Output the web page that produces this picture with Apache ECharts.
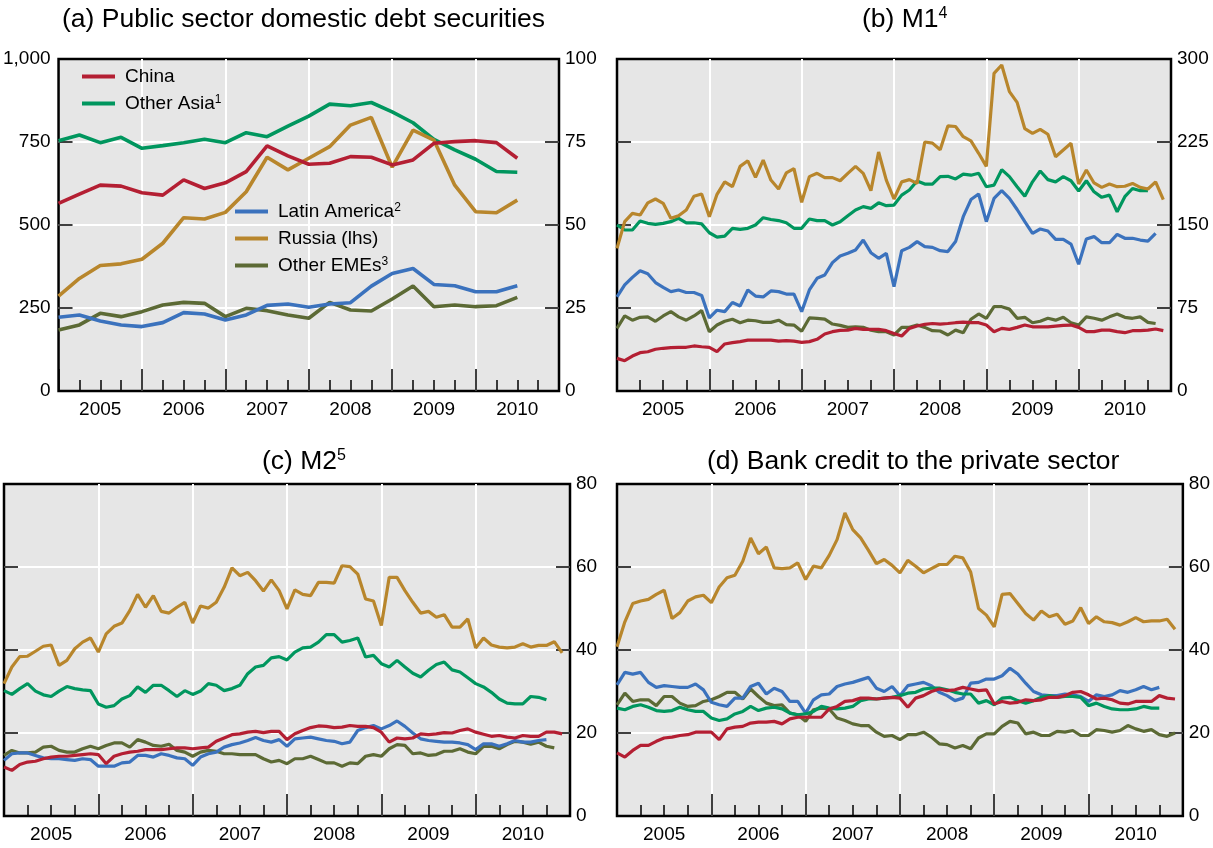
<!DOCTYPE html>
<html><head><meta charset="utf-8">
<script src="https://cdn.jsdelivr.net/npm/echarts@6/dist/echarts.min.js"></script>
<style>html,body{margin:0;padding:0;background:#fff}#c{width:1213px;height:848px}</style>
</head><body><div id="c"></div><script>
// ---------- data ----------
const YEARS = ['2005', '2006', '2007', '2008', '2009', '2010'];
const SERIES_NAMES = ['China', 'Other Asia', 'Latin America', 'Russia (lhs)', 'Other EMEs'];

// (a) quarterly, starting 2005 Q1; Russia on lhs (0-1000), others on rhs (0-100)
const A_CHINA = [56.5, 59.3, 62.0, 61.7, 59.7, 59.0, 63.6, 61.0, 62.7, 66.1, 73.8, 70.8, 68.3, 68.6, 70.6, 70.4, 68.1, 69.6, 74.6, 75.1, 75.4, 74.8, 70.1];
const A_OTHER_ASIA = [75.4, 77.1, 74.8, 76.4, 73.1, 73.9, 74.8, 75.8, 74.8, 77.8, 76.6, 79.8, 82.8, 86.4, 85.9, 86.9, 84.1, 80.8, 75.8, 72.6, 69.8, 66.1, 65.9];
const A_LATAM = [22.2, 22.9, 21.1, 19.9, 19.4, 20.6, 23.6, 23.2, 21.4, 22.9, 25.8, 26.2, 25.2, 26.2, 26.6, 31.6, 35.4, 36.9, 32.1, 31.7, 29.9, 29.9, 31.7];
const A_RUSSIA = [286, 339, 378, 383, 397, 445, 522, 518, 538, 600, 704, 666, 701, 736, 801, 824, 674, 786, 756, 620, 540, 537, 575];
const A_OTHER_EMES = [18.4, 19.9, 23.4, 22.4, 23.9, 25.9, 26.7, 26.4, 22.4, 24.9, 24.2, 22.9, 21.9, 26.7, 24.4, 24.1, 27.7, 31.6, 25.4, 25.9, 25.4, 25.7, 28.2];

// (b) M1, monthly from Jan 2005
const B_RUSSIA = [128.9, 153, 160.5, 159, 170, 173.5, 169.6, 156, 158.4, 163.5, 176, 178, 157.5, 177.7, 189, 184.6, 203, 208, 193, 208.7, 190.6, 182.5, 197, 201, 170.5, 193.7, 196.7, 192.8, 192.8, 190, 196.7, 203, 196.7, 181, 216, 190.6, 173.5, 189, 191, 187.6, 225, 224, 218, 239.5, 239, 229.8, 226, 214.8, 203, 287, 294.6, 270.5, 260.8, 237, 232.8, 236.4, 232, 211.7, 217.8, 223.8, 187, 199.7, 188, 184, 187, 184.6, 185, 187.6, 184, 182.5, 189, 173];
const B_OTHER_ASIA = [150, 145.5, 145.5, 153.6, 151.5, 150.6, 151.5, 153, 156, 152, 152, 151, 143, 139, 140, 147, 146, 147, 150, 156.6, 155, 154, 152, 147, 147, 155.4, 154, 154, 150, 153, 158.4, 163.5, 166.6, 165, 170, 167.5, 168, 177, 181.6, 189.8, 187, 187, 193.7, 194, 191.6, 196, 195, 196.7, 184.6, 186, 200, 193.7, 184.6, 176, 189, 198.8, 191, 189, 193.7, 190, 180.7, 190, 180, 175, 177, 162, 175.6, 183, 181, 181];
const B_LATAM = [85, 95.8, 102.7, 108.7, 106, 98, 93.7, 89.8, 91.3, 89, 89, 86.4, 66, 73, 71.7, 80, 76.8, 91.3, 85.8, 85, 90.4, 89.8, 87.6, 87.6, 71.7, 91.3, 101.8, 104.8, 116, 122, 124.4, 127.4, 136.4, 125, 119.9, 124.4, 94.3, 126.8, 129.8, 135, 130.4, 129.8, 126.8, 126, 135, 157.5, 173, 178, 153, 174, 181, 174, 164, 153, 142.5, 146.4, 144.6, 137, 137, 132.8, 114.5, 137.3, 139.5, 134, 134, 141.6, 138, 138, 136.4, 135.5, 142.5];
const B_OTHER_EMES = [56.6, 67.8, 64, 66.6, 67, 63, 67.8, 71.7, 67, 64, 67.8, 72.6, 53.6, 59.6, 63, 64.8, 61.7, 64, 63.5, 62, 62, 64, 60, 59.6, 54, 66, 65.7, 65, 60.5, 59.3, 57.5, 58, 57.5, 55, 53.6, 53.6, 50.6, 57.5, 57.5, 59.6, 57.5, 54.5, 54.2, 50.6, 55, 52.7, 64.8, 69.6, 65.7, 76.2, 76.2, 74, 65.7, 66.6, 61.7, 63, 65.7, 64, 66.6, 61.7, 59.6, 67, 65.7, 64, 67, 69.6, 66.6, 65.7, 67, 62, 61];
const B_CHINA = [29.5, 27.4, 31.6, 34.6, 35.5, 37.7, 38.6, 39.2, 39.5, 39.5, 40.7, 40, 39.5, 35.5, 42.5, 43.7, 44.6, 46, 46, 46, 46, 45, 45.5, 45, 44, 44.6, 46.7, 51.5, 53.6, 54.8, 55, 56.6, 55.7, 55.7, 55.7, 54.5, 52, 49.7, 56.6, 58.7, 60.2, 61, 60.5, 61, 61.7, 62.3, 61.7, 61.7, 59.6, 53.6, 56.6, 55.7, 57.5, 59.6, 58, 58, 58, 58.7, 59.3, 59.6, 57.5, 53.6, 53.6, 55, 55, 53.6, 52.7, 54.5, 54.5, 55, 56, 54.5];

// (c) M2, monthly from Jan 2005
const C_RUSSIA = [31.9, 35.9, 38.4, 38.5, 39.7, 40.9, 41.2, 36.3, 37.5, 40.3, 41.9, 42.9, 39.5, 43.9, 45.7, 46.5, 49.5, 53.4, 50.3, 53.1, 49.3, 48.9, 50.3, 51.5, 46.5, 50.6, 50.1, 51.5, 55.1, 59.8, 57.9, 58.7, 56.7, 54.2, 56.9, 54.3, 49.9, 54.5, 53.4, 53.1, 56.3, 56.3, 56.1, 60.3, 60.1, 58.3, 52.3, 51.8, 45.9, 57.5, 57.5, 54.3, 51.5, 48.9, 49.3, 47.9, 48.5, 45.5, 45.5, 47.5, 40.5, 42.9, 41.2, 40.7, 40.5, 40.7, 41.5, 40.7, 41.1, 41.1, 42, 39.3];
const C_OTHER_ASIA = [30.2, 29.3, 30.7, 31.9, 30.1, 29.2, 28.8, 30.1, 31.2, 30.7, 30.4, 30.2, 27, 26.2, 26.6, 28.2, 29, 31.1, 29.8, 31.5, 31.5, 30.2, 28.8, 30.2, 29.3, 30.1, 31.9, 31.5, 30.2, 30.7, 31.5, 34.3, 35.9, 36.3, 38.1, 38.4, 37.6, 39.5, 40.5, 40.7, 41.9, 43.7, 43.7, 41.9, 42.3, 42.9, 38.3, 38.7, 36.7, 35.9, 37.5, 35.9, 34.4, 33.5, 35.1, 36.5, 37.1, 35.2, 34.7, 33.3, 31.9, 31.1, 29.8, 28.2, 27.2, 27, 27, 28.8, 28.6, 28];
const C_CHINA = [11.8, 11, 12.4, 13, 13.2, 13.8, 14.2, 14.4, 14.4, 14.6, 14.8, 15, 14.8, 12.6, 14.4, 15, 15.4, 15.6, 16, 16, 16, 16.2, 16.4, 16.4, 16.2, 16.4, 16.6, 18, 18.8, 19.6, 19.8, 20.2, 20.4, 20.1, 20.4, 20.4, 18.4, 19.8, 20.6, 21.3, 21.7, 21.6, 21.3, 21.4, 21.8, 21.6, 21.6, 21.3, 20.2, 17.8, 18.8, 18.6, 18.8, 19.8, 19.6, 19.8, 20.1, 20, 20.6, 21, 20.2, 19.7, 19.2, 19.4, 19, 18.8, 19.4, 19.2, 19.2, 20.2, 20.2, 19.8];
const C_LATAM = [13.4, 15, 15.2, 15.2, 14.6, 14, 13.8, 13.8, 13.6, 13.4, 13.8, 13.6, 12, 12, 12, 12.8, 13, 14.6, 14.6, 14.2, 15, 14.6, 14, 13.8, 12.2, 14.2, 15, 15.4, 16.6, 17.2, 17.6, 18.2, 18.9, 18.2, 17.8, 18.4, 16.8, 18.6, 18.8, 19, 18.6, 18.2, 18, 17.4, 17.8, 20.6, 21.3, 21.8, 21, 21.8, 22.9, 21.6, 20, 18.6, 18.2, 18, 17.8, 17.8, 17.6, 17.2, 16, 17.4, 17.4, 16.8, 17.4, 18.2, 17.8, 17.8, 18.2, 18.4];
const C_OTHER_EMES = [14.6, 15.8, 15.2, 15.2, 15.4, 16.6, 16.8, 15.8, 15.4, 15.4, 16.2, 16.8, 16.2, 17, 17.6, 17.6, 16.6, 18.4, 17.8, 17, 16.8, 17.3, 15.8, 15.4, 14.4, 15.4, 15.8, 15.6, 15, 15, 14.8, 14.8, 14.8, 13.8, 13, 13.4, 12.6, 13.8, 13.8, 14.4, 13.6, 12.8, 12.8, 12, 12.8, 12.6, 14.4, 14.8, 14.4, 16.2, 17.2, 17, 15, 15.2, 14.6, 14.8, 15.6, 15.6, 16.2, 15.4, 15, 16.8, 16.8, 16.2, 17.2, 18, 17.8, 17.3, 17.8, 16.8, 16.4];

// (d) bank credit to the private sector, monthly from Jan 2005
const D_RUSSIA = [40.8, 46.8, 51.2, 51.8, 52.2, 53.4, 54.4, 47.6, 49, 51.8, 52.8, 53.2, 51.4, 55.2, 57.4, 58, 61.4, 67, 63.2, 64.8, 59.8, 59.6, 59.8, 61, 57, 60.2, 59.8, 62.8, 66.6, 73, 69, 67, 64, 60.8, 61.8, 60.4, 58.6, 61.6, 60.2, 58.6, 59.6, 60.6, 60.6, 62.6, 62.2, 58.8, 50, 48.4, 45.6, 53.4, 53.6, 51.2, 48.8, 47.2, 49.4, 48, 48.6, 46.2, 47, 50.2, 46.4, 48, 46.8, 46.6, 46, 46.8, 47.8, 46.8, 47, 47, 47.4, 45];
const D_LATAM = [31.6, 34.6, 34.2, 34.6, 32.2, 31, 31.4, 31.2, 31, 31, 31.8, 30.4, 27.4, 26.8, 26.4, 28.4, 28.4, 31.2, 32, 29.4, 30.8, 30, 27.6, 27.6, 24.8, 28, 29.2, 29.4, 31.2, 31.8, 32.2, 32.8, 33.4, 30.8, 30, 31.2, 29, 31.4, 31.8, 32.2, 31.4, 29.8, 29, 27.8, 28.4, 32, 32.2, 33, 33, 33.8, 35.6, 34.2, 32, 30, 29.2, 29, 29, 29.4, 29.2, 28.8, 27.6, 29.2, 28.8, 29.2, 30.2, 29.8, 30.4, 31.2, 30.4, 31];
const D_OTHER_EMES = [26.8, 29.6, 27.6, 28, 28, 26.6, 28.8, 28.8, 27.2, 26.4, 26.6, 27.6, 28, 28.8, 29.8, 29.8, 28.2, 30.6, 28.8, 27.2, 26.6, 26.8, 24.8, 24.4, 22.8, 25.6, 26, 25.8, 23.6, 23, 22.2, 21.8, 21.8, 20.2, 19.2, 19.4, 18.4, 19.6, 19.6, 20.2, 19, 17.4, 17.2, 16.4, 17, 16.2, 18.8, 19.8, 19.8, 21.6, 22.8, 22.4, 19.8, 20.2, 19.4, 19.4, 20.4, 20.2, 20.6, 19.4, 19.4, 20.8, 20.6, 20.2, 20.6, 21.8, 21, 20.4, 20.8, 19.6, 19.2, 20];
const D_OTHER_ASIA = [26, 25.6, 26.4, 26.8, 26.2, 25.4, 25.2, 25.4, 26.2, 25.6, 25.2, 25.2, 23.6, 23, 23.4, 24.6, 25.2, 26.4, 25.4, 26, 26.2, 25.8, 24.8, 24.4, 24.6, 25.2, 26.4, 26, 25.8, 26, 26.4, 27.8, 28.2, 28.2, 28.4, 28.6, 29, 29.6, 29.8, 30.6, 30.8, 30.8, 30.4, 29.8, 29.4, 29.4, 27.2, 27.8, 26.8, 28.4, 28.6, 27.8, 27.2, 27.8, 28.6, 29, 28.6, 28.8, 28.8, 28.6, 26.6, 27.2, 26.4, 25.8, 25.6, 25.6, 25.8, 26.4, 26, 26];
const D_CHINA = [15.2, 14.2, 15.8, 17, 17, 18, 18.8, 19, 19.4, 19.6, 20.2, 20.2, 20.2, 18.4, 21, 21.4, 21.6, 22.4, 22.6, 22.6, 22.8, 22.2, 23.4, 23.8, 23.8, 23.8, 23.8, 25.8, 26.4, 27.6, 27.8, 28.4, 28.4, 28.2, 28.4, 28.6, 28.4, 26.2, 28.4, 29, 30, 30.6, 30.2, 30.4, 31, 30.6, 30.2, 30.4, 27, 27.6, 27.2, 27.4, 28, 27.8, 28, 28.6, 28.6, 29, 29.8, 30, 29.2, 28.2, 28.4, 28, 27.2, 27, 27.6, 27.6, 27.6, 29, 28.4, 28.2];

// ---------- styling ----------
const FONT = "'Liberation Sans', Arial, Helvetica, sans-serif";
const COLORS = {
  'China': '#b41f33',
  'Other Asia': '#00965e',
  'Latin America': '#3b72bd',
  'Russia (lhs)': '#b8862c',
  'Other EMEs': '#5c6a35'
};
const GRIDS = [
  {left: 58, top: 59, width: 501, height: 332},
  {left: 617, top: 59, width: 554, height: 332},
  {left: 4, top: 484, width: 566, height: 332},
  {left: 617, top: 484, width: 567, height: 332}
];
const Y_RANGES = [[100, 25], [300, 75], [80, 20], [80, 20]];

function toPoints(vals, step) {
  return vals.map((v, i) => [2005 + i * step, v]);
}

const grid = GRIDS.map(g => Object.assign({
  show: true, backgroundColor: '#e6e6e6', borderColor: '#000', borderWidth: 2.5, containLabel: false
}, g));

const xAxis = [];
const yAxis = [];
GRIDS.forEach((g, gi) => {
  xAxis.push({
    type: 'value', gridIndex: gi, position: 'bottom', min: 2005, max: 2011, interval: 1,
    axisLine: {show: false}, axisLabel: {show: false},
    axisTick: {show: true, inside: true, length: 22, lineStyle: {color: '#000', width: 1.5}},
    minorTick: {show: true, splitNumber: 4, length: 11, lineStyle: {color: '#000', width: 1.5}},
    splitLine: {show: true, showMinLine: false, showMaxLine: false, lineStyle: {color: '#fff', width: 2}}
  });
  xAxis.push({
    type: 'category', gridIndex: gi, position: 'bottom', data: YEARS, boundaryGap: true,
    axisLine: {show: false}, axisTick: {show: false}, splitLine: {show: false},
    axisLabel: {show: true, color: '#000', fontSize: 19, fontFamily: FONT, margin: 9}
  });
  const [mx, iv] = Y_RANGES[gi];
  yAxis.push({
    type: 'value', gridIndex: gi, position: 'right', min: 0, max: mx, interval: iv,
    axisLine: {show: false},
    axisTick: {show: true, inside: true, length: 14, lineStyle: {color: '#000', width: 1.5}},
    axisLabel: {color: '#000', fontSize: 19, fontFamily: FONT, margin: 6},
    splitLine: {show: true, showMinLine: false, showMaxLine: false, lineStyle: {color: '#fff', width: 2}}
  });
  yAxis.push({
    type: 'value', gridIndex: gi, position: 'left', min: 0,
    max: gi === 0 ? 1000 : mx, interval: gi === 0 ? 250 : iv,
    axisLine: {show: false},
    axisTick: {show: true, inside: true, length: 14, lineStyle: {color: '#000', width: 1.5}},
    axisLabel: {show: gi === 0, color: '#000', fontSize: 19, fontFamily: FONT, margin: 8,
      formatter: v => v.toLocaleString('en-US')},
    splitLine: {show: false}
  });
});

function line(name, gi, vals, step, yIdx, width) {
  return {
    type: 'line', name: name, xAxisIndex: gi * 2, yAxisIndex: yIdx,
    data: toPoints(vals, step), showSymbol: false, symbol: 'none', smooth: false,
    color: COLORS[name],
    lineStyle: {color: COLORS[name], width: width},
    itemStyle: {color: COLORS[name]},
    emphasis: {disabled: true}, silent: true, animation: false
  };
}
const Q = 0.25, M = 1 / 12;
const series = [
  line('Other EMEs', 0, A_OTHER_EMES, Q, 0, 3.6),
  line('Latin America', 0, A_LATAM, Q, 0, 3.6),
  line('Other Asia', 0, A_OTHER_ASIA, Q, 0, 3.6),
  line('Russia (lhs)', 0, A_RUSSIA, Q, 1, 3.6),
  line('China', 0, A_CHINA, Q, 0, 3.6),

  line('Other EMEs', 1, B_OTHER_EMES, M, 2, 3.2),
  line('Latin America', 1, B_LATAM, M, 2, 3.2),
  line('Other Asia', 1, B_OTHER_ASIA, M, 2, 3.2),
  line('Russia (lhs)', 1, B_RUSSIA, M, 2, 3.2),
  line('China', 1, B_CHINA, M, 2, 3.2),

  line('Other EMEs', 2, C_OTHER_EMES, M, 4, 3.2),
  line('Latin America', 2, C_LATAM, M, 4, 3.2),
  line('Other Asia', 2, C_OTHER_ASIA, M, 4, 3.2),
  line('Russia (lhs)', 2, C_RUSSIA, M, 4, 3.2),
  line('China', 2, C_CHINA, M, 4, 3.2),

  line('Other EMEs', 3, D_OTHER_EMES, M, 6, 3.2),
  line('Latin America', 3, D_LATAM, M, 6, 3.2),
  line('Other Asia', 3, D_OTHER_ASIA, M, 6, 3.2),
  line('Russia (lhs)', 3, D_RUSSIA, M, 6, 3.2),
  line('China', 3, D_CHINA, M, 6, 3.2)
];

const SUP = {'Other Asia': '1', 'Latin America': '2', 'Other EMEs': '3'};
function legendCfg(names, left, top) {
  return {
    data: names, left: left, top: top, orient: 'vertical', padding: 0,
    itemWidth: 33, itemHeight: 4, itemGap: 8, icon: 'rect', selectedMode: false,
    formatter: n => SUP[n] ? n + '{s|' + SUP[n] + '}' : n,
    textStyle: {fontSize: 19, color: '#000', fontFamily: FONT, padding: [0, 0, 0, 5],
      rich: {s: {fontSize: 12, color: '#000', fontFamily: FONT, verticalAlign: 'top'}}}
  };
}

const titleStyle = {fontSize: 26.5, fontWeight: 'normal', color: '#000', fontFamily: FONT,
  rich: {s: {fontSize: 16, color: '#000', fontFamily: FONT, verticalAlign: 'top'}}};
const title = [
  {text: '(a) Public sector domestic debt securities', left: 62, top: 6, padding: 0, textStyle: titleStyle},
  {text: '(b) M1{s|4}', left: 862, top: 6, padding: 0, textStyle: titleStyle},
  {text: '(c) M2{s|5}', left: 262, top: 448, padding: 0, textStyle: titleStyle},
  {text: '(d) Bank credit to the private sector', left: 707, top: 448, padding: 0, textStyle: titleStyle}
];

const chart = echarts.init(document.getElementById('c'), null, {renderer: 'canvas'});
chart.setOption({
  animation: false,
  backgroundColor: '#fff',
  title: title,
  legend: [
    legendCfg(['China', 'Other Asia'], 82, 67),
    legendCfg(['Latin America', 'Russia (lhs)', 'Other EMEs'], 235, 202)
  ],
  grid: grid,
  xAxis: xAxis,
  yAxis: yAxis,
  series: series
});
</script></body></html>
